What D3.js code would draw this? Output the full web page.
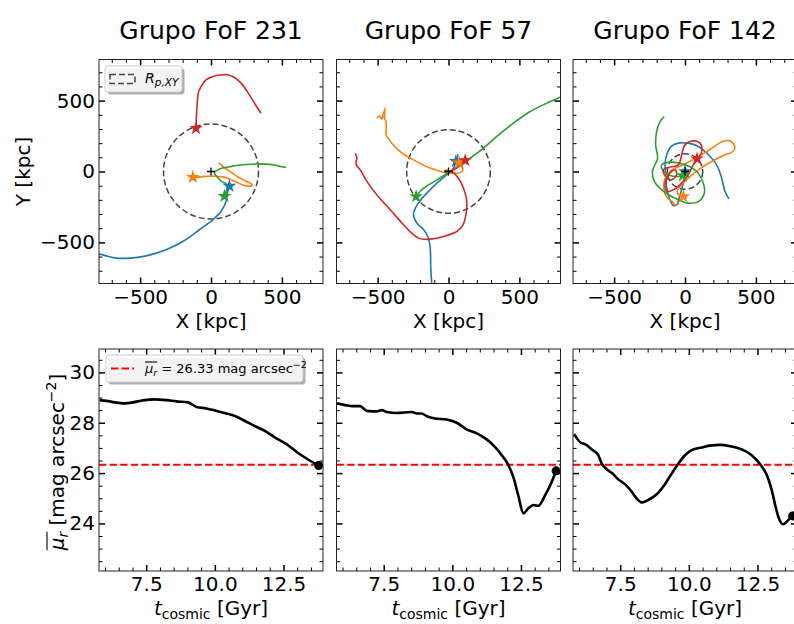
<!DOCTYPE html>
<html>
<head>
<meta charset="utf-8">
<script src="https://cdn.jsdelivr.net/npm/d3@7"></script>
<style>
  body { margin: 0; background: #fff; }
  text { font-family: "DejaVu Sans", sans-serif; white-space: pre; }
</style>
</head>
<body>
<script>
// ---- data ----
var groupNames = ["Grupo FoF 231", "Grupo FoF 57", "Grupo FoF 142"];
var trajColors = ["#1f77b4", "#ff7f0e", "#2ca02c", "#d62728"];
var radiusXY = [335, 295, 125];      // kpc
var muMean = 26.33;

// trajectories (kpc), order: blue, orange, green, red
var traj231Blue = [[-830,-570],[-794,-580],[-740,-595],[-670,-611],[-576,-611],[-458,-595],[-317,-552],[-200,-494],[-82,-411],[12,-341],[70,-282],[106,-211],[118,-141],[130,-103]];
var traj231Orange = [[55,61],[92,30],[130,2],[165,-22],[200,-44],[250,-70],[283,-87],[292,-97],[280,-104],[259,-103],[225,-95],[189,-80],[150,-62],[107,-44],[70,-36],[36,-33],[0,-33],[-34,-34],[-80,-38],[-128,-40]];
var traj231Green = [[529,28],[480,38],[420,50],[341,54],[248,49],[180,42],[130,33],[80,24],[45,10],[25,-5],[30,-22],[50,-45],[72,-68],[100,-82],[115,-100],[112,-130],[104,-155],[95,-174]];
var traj231Red = [[352,411],[320,460],[293,505],[255,565],[223,611],[190,645],[153,670],[115,683],[82,681],[35,677],[0,665],[-35,646],[-70,599],[-88,560],[-94,517],[-101,423],[-104,360],[-106,305]];

var traj57Blue = [[-115,-830],[-118,-790],[-125,-681],[-129,-541],[-145,-460],[-175,-410],[-223,-364],[-247,-306],[-228,-247],[-195,-200],[-165,-165],[-82,-82],[-12,-23],[35,23],[52,70],[68,122]];
var traj57Orange = [[-505,376],[-490,392],[-478,380],[-470,371],[-462,395],[-455,420],[-447,446],[-450,410],[-451,376],[-440,350],[-440,300],[-440,259],[-420,228],[-400,200],[-341,141],[-247,82],[-129,24],[-35,-5],[35,-12],[82,-8],[101,10],[95,40],[75,62]];
var traj57Green = [[830,545],[799,529],[693,482],[576,423],[458,341],[341,247],[247,165],[153,94],[82,47],[12,0],[-82,-59],[-176,-118],[-228,-176]];
var traj57Red = [[-658,129],[-650,110],[-646,94],[-652,70],[-650,47],[-623,12],[-576,-70],[-505,-165],[-411,-270],[-317,-376],[-265,-430],[-211,-470],[-170,-478],[-129,-477],[-35,-458],[59,-423],[100,-380],[118,-329],[129,-211],[106,-118],[70,-47],[23,0],[-23,7],[-25,0],[20,5],[60,25],[95,55],[118,78]];

var traj142Blue = [[310,-193],[282,-141],[259,-47],[223,47],[165,118],[94,176],[23,200],[-47,200],[-99,176],[-129,118],[-141,47],[-134,-23],[-129,-118],[-106,-200],[-82,-240],[-59,-235],[-35,-165],[-12,-82],[0,0]];
var traj142Orange = [[-40,-225],[-70,-235],[-90,-212],[-130,-180],[-150,-120],[-140,-50],[-100,5],[-30,40],[40,75],[110,115],[190,165],[260,210],[320,215],[352,170],[330,135],[282,118],[188,71],[94,12],[23,-47],[-35,-106],[-55,-150],[-12,-176]];
var traj142Green = [[-146,388],[-176,352],[-200,282],[-207,188],[-193,94],[-215,40],[-230,0],[-216,-70],[-165,-129],[-70,-188],[23,-223],[94,-212],[136,-153],[129,-82],[82,0],[0,47],[-94,66],[-165,47],[-150,0],[-100,-30],[-50,-35],[-15,-28]];
var traj142Red = [[-141,-35],[-153,12],[-118,28],[-47,47],[-23,118],[0,188],[59,216],[106,200],[118,141],[94,94],[59,47],[23,-23],[-23,-82],[-82,-129],[-129,-141],[-141,-94],[-118,-23],[-70,12],[-59,-23],[-94,-59],[-130,-50]];

// final positions (stars)
var stars231 = [[130,-103],[-128,-40],[95,-174],[-106,305]];
var stars57 = [[52,72],[75,62],[-228,-176],[118,78]];
var stars142 = [[0,0],[-12,-176],[-15,-28],[85,90]];

// surface brightness vs cosmic time
var t231 = [5.8, 6.05, 6.35, 6.66, 7.02, 7.38, 7.81, 8.24, 8.60, 9.02, 9.33, 9.69, 10.06, 10.42, 10.79, 11.15, 11.51, 11.88, 12.24, 12.61, 12.97, 13.34, 13.78];
var mu231 = [28.90, 28.87, 28.81, 28.77, 28.81, 28.89, 28.93, 28.90, 28.85, 28.81, 28.63, 28.57, 28.47, 28.37, 28.24, 28.04, 27.84, 27.64, 27.38, 27.15, 26.85, 26.58, 26.30];
var t57 = [5.8, 6.09, 6.39, 6.64, 6.76, 6.88, 7.24, 7.43, 7.61, 7.97, 8.52, 8.70, 8.88, 9.07, 9.37, 9.79, 10.16, 10.52, 10.89, 11.25, 11.55, 11.80, 12.04, 12.22, 12.40, 12.59, 12.77, 12.95, 13.13, 13.38, 13.62, 13.78];
var mu57 = [28.77, 28.70, 28.66, 28.66, 28.57, 28.47, 28.45, 28.50, 28.43, 28.39, 28.43, 28.37, 28.37, 28.26, 28.17, 28.13, 28.00, 27.74, 27.58, 27.34, 27.04, 26.71, 26.32, 25.85, 25.12, 24.40, 24.60, 24.73, 24.70, 25.12, 25.65, 26.09];
var t142 = [5.82, 6.03, 6.28, 6.46, 6.70, 6.83, 7.01, 7.19, 7.43, 7.67, 7.92, 8.10, 8.30, 8.52, 8.83, 9.13, 9.38, 9.62, 9.86, 10.10, 10.47, 10.83, 11.14, 11.50, 11.93, 12.29, 12.59, 12.84, 13.02, 13.16, 13.28, 13.44, 13.62, 13.78];
var mu142 = [27.55, 27.24, 27.11, 26.94, 26.71, 26.38, 26.15, 26.01, 25.75, 25.56, 25.26, 24.99, 24.83, 24.93, 25.16, 25.56, 25.99, 26.38, 26.71, 26.91, 27.02, 27.10, 27.12, 27.07, 26.94, 26.71, 26.36, 25.92, 25.32, 24.66, 24.20, 23.97, 24.13, 24.30];

var trajs = [
  [traj231Blue, traj231Orange, traj231Green, traj231Red],
  [traj57Blue, traj57Orange, traj57Green, traj57Red],
  [traj142Blue, traj142Orange, traj142Green, traj142Red]
];
var stars = [stars231, stars57, stars142];
var times = [t231, t57, t142];
var mus = [mu231, mu57, mu142];

// ---- layout ----
var svgWidth = 794, svgHeight = 624;
var panelLeft = [99, 336.5, 573];
var panelW = 224;
var topY = 59.5, topH = 224;
var botY = 349, botH = 222;

var svg = d3.select("body").append("svg")
  .attr("width", svgWidth)
  .attr("height", svgHeight);

var defs = svg.append("defs");

// draws inward ticks on all four sides, labels only where asked
function drawAxes(g, x, y, w, h, o) {
  var maj = 6, mnr = 3.5;
  function style(sel, width) {
    sel.select(".domain").remove();
    sel.selectAll("line").attr("stroke", "#000").attr("stroke-width", width);
    sel.selectAll("text").style("font-size", "20px").style("font-family", "DejaVu Sans").attr("fill", "#000");
  }
  // minors
  g.append("g").attr("transform", "translate(0," + h + ")")
    .call(d3.axisBottom(x).tickValues(o.xMin).tickSize(-mnr).tickFormat(""))
    .call(s => style(s, 1));
  g.append("g")
    .call(d3.axisTop(x).tickValues(o.xMin).tickSize(-mnr).tickFormat(""))
    .call(s => style(s, 1));
  g.append("g")
    .call(d3.axisLeft(y).tickValues(o.yMin).tickSize(-mnr).tickFormat(""))
    .call(s => style(s, 1));
  g.append("g").attr("transform", "translate(" + w + ",0)")
    .call(d3.axisRight(y).tickValues(o.yMin).tickSize(-mnr).tickFormat(""))
    .call(s => style(s, 1));
  // majors
  g.append("g").attr("transform", "translate(0," + h + ")")
    .call(d3.axisBottom(x).tickValues(o.xMaj).tickSize(-maj).tickPadding(6).tickFormat(o.xFmt))
    .call(s => style(s, 1.5));
  g.append("g")
    .call(d3.axisTop(x).tickValues(o.xMaj).tickSize(-maj).tickFormat(""))
    .call(s => style(s, 1.5));
  g.append("g")
    .call(d3.axisLeft(y).tickValues(o.yMaj).tickSize(-maj).tickPadding(4).tickFormat(o.yLabels ? o.yFmt : ""))
    .call(s => style(s, 1.5));
  g.append("g").attr("transform", "translate(" + w + ",0)")
    .call(d3.axisRight(y).tickValues(o.yMaj).tickSize(-maj).tickFormat(""))
    .call(s => style(s, 1.5));
  // frame
  g.append("rect").attr("width", w).attr("height", h)
    .attr("fill", "none").attr("stroke", "#222").attr("stroke-width", 1);
}

// overline over the first n characters of a text node, drawn in parent g
function overline(g, textNode, n, dy) {
  var a = textNode.getStartPositionOfChar(0).x;
  var b = textNode.getEndPositionOfChar(n - 1).x;
  g.append("line").attr("x1", a).attr("x2", b).attr("y1", dy).attr("y2", dy)
    .attr("stroke", "#000").attr("stroke-width", 1.1);
}

var kpcTicksMinor = d3.range(-700, 701, 100).filter(v => v % 500 !== 0);
var tMinor = d3.range(6, 13.76, 0.5).filter(v => Math.abs(v - 7.5) > 0.01 && Math.abs(v - 10) > 0.01 && Math.abs(v - 12.5) > 0.01);
var muMinor = d3.range(22.5, 30.76, 0.5).filter(v => v % 2 !== 0);

var star = d3.symbol().type(d3.symbolStar).size(60);

groupNames.forEach(function(name, i) {
  var left = panelLeft[i];

  // ---- top: XY trajectories ----
  var x = d3.scaleLinear().domain([-790, 790]).range([0, panelW]);
  var y = d3.scaleLinear().domain([-790, 790]).range([topH, 0]);
  var g = svg.append("g").attr("transform", "translate(" + left + "," + topY + ")");

  defs.append("clipPath").attr("id", "clip" + i)
    .append("rect").attr("width", panelW).attr("height", topH);
  var plot = g.append("g").attr("clip-path", "url(#clip" + i + ")");

  plot.append("ellipse")
    .attr("cx", x(0)).attr("cy", y(0))
    .attr("rx", x(radiusXY[i]) - x(0)).attr("ry", y(0) - y(radiusXY[i]))
    .attr("fill", "none").attr("stroke", "#444").attr("stroke-width", 1.5)
    .attr("stroke-dasharray", "6,3");

  var line = d3.line().x(d => x(d[0])).y(d => y(d[1])).curve(d3.curveCatmullRom.alpha(0.5));
  trajs[i].forEach(function(tr, k) {
    plot.append("path").attr("d", line(tr))
      .attr("fill", "none").attr("stroke", trajColors[k]).attr("stroke-width", 1.6);
  });
  stars[i].forEach(function(s, k) {
    plot.append("path").attr("d", star)
      .attr("transform", "translate(" + x(s[0]) + "," + y(s[1]) + ")")
      .attr("fill", trajColors[k]);
  });
  // centre marker
  plot.append("path")
    .attr("d", "M" + (x(0) - 4) + "," + y(0) + "H" + (x(0) + 4) + "M" + x(0) + "," + (y(0) - 4) + "V" + (y(0) + 4))
    .attr("stroke", "#000").attr("stroke-width", 1.3);

  drawAxes(g, x, y, panelW, topH, {
    xMaj: [-500, 0, 500], xMin: kpcTicksMinor,
    yMaj: [-500, 0, 500], yMin: kpcTicksMinor,
    xFmt: d3.format("d"), yFmt: d3.format("d"), yLabels: i === 0
  });

  svg.append("text")
    .attr("x", left + panelW / 2).attr("y", 39)
    .attr("text-anchor", "middle").style("font-size", "25px")
    .text(name);

  svg.append("text")
    .attr("x", left + panelW / 2).attr("y", topY + topH + 44)
    .attr("text-anchor", "middle").style("font-size", "20px")
    .text("X [kpc]");

  // ---- bottom: surface brightness ----
  var tx = d3.scaleLinear().domain([5.78, 13.94]).range([0, panelW]);
  var my = d3.scaleLinear().domain([22.11, 30.93]).range([botH, 0]);
  var gb = svg.append("g").attr("transform", "translate(" + left + "," + botY + ")");

  gb.append("line")
    .attr("x1", 0).attr("x2", panelW)
    .attr("y1", my(muMean)).attr("y2", my(muMean))
    .attr("stroke", "red").attr("stroke-width", 2).attr("stroke-dasharray", "7.4,3.2");

  var pts = times[i].map((t, j) => [t, mus[i][j]]);
  gb.append("path")
    .attr("d", d3.line().x(d => tx(d[0])).y(d => my(d[1])).curve(d3.curveMonotoneX)(pts))
    .attr("fill", "none").attr("stroke", "#000").attr("stroke-width", 2.6);
  var last = pts[pts.length - 1];
  gb.append("circle").attr("cx", tx(last[0])).attr("cy", my(last[1])).attr("r", 4.5).attr("fill", "#000");

  drawAxes(gb, tx, my, panelW, botH, {
    xMaj: [7.5, 10, 12.5], xMin: tMinor,
    yMaj: [24, 26, 28, 30], yMin: muMinor,
    xFmt: d3.format(".1f"), yFmt: d3.format("d"), yLabels: i === 0
  });

  var xl = svg.append("text")
    .attr("x", left + panelW / 2).attr("y", botY + botH + 44)
    .attr("text-anchor", "middle").style("font-size", "20px");
  xl.append("tspan").attr("font-style", "italic").text("t");
  xl.append("tspan").attr("dy", 4).style("font-size", "14px").text("cosmic");
  xl.append("tspan").attr("dy", -4).text(" [Gyr]");
});

// ---- y labels ----
svg.append("text")
  .attr("transform", "translate(30," + (topY + topH / 2) + ") rotate(-90)")
  .attr("text-anchor", "middle").style("font-size", "20px")
  .text("Y [kpc]");

var ylg = svg.append("g").attr("transform", "translate(64," + (botY + botH / 2 + 2) + ") rotate(-90)");
var yl = ylg.append("text").attr("text-anchor", "middle").style("font-size", "20px");
yl.append("tspan").attr("font-style", "italic").text("μ");
yl.append("tspan").attr("font-style", "italic").attr("dy", 4).style("font-size", "14px").text("r");
yl.append("tspan").attr("dy", -4).text(" [mag arcsec");
yl.append("tspan").attr("dy", -8).style("font-size", "14px").text("−2");
yl.append("tspan").attr("dy", 8).text("]");
overline(ylg, yl.node(), 2, -17);

// ---- legends ----
function legendBox(x0, y0, w, h) {
  svg.append("rect").attr("x", x0 + 2.5).attr("y", y0 + 2.5).attr("width", w).attr("height", h)
    .attr("rx", 3).attr("fill", "#4d4d4d").attr("opacity", 0.45);
  svg.append("rect").attr("x", x0).attr("y", y0).attr("width", w).attr("height", h)
    .attr("rx", 3).attr("fill", "#fff").attr("fill-opacity", 0.85)
    .attr("stroke", "#ccc").attr("stroke-width", 1);
}

legendBox(105, 66, 77, 26);
svg.append("rect").attr("x", 110).attr("y", 74.5).attr("width", 25).attr("height", 9)
  .attr("fill", "none").attr("stroke", "#444").attr("stroke-width", 1.5).attr("stroke-dasharray", "6,3");
var lt = svg.append("text").attr("x", 145).attr("y", 83).style("font-size", "14px");
lt.append("tspan").attr("font-style", "italic").text("R");
lt.append("tspan").attr("font-style", "italic").attr("dy", 3).style("font-size", "10.5px").text("p,XY");

legendBox(106, 355, 197, 27);
svg.append("line").attr("x1", 111).attr("x2", 134).attr("y1", 368.5).attr("y2", 368.5)
  .attr("stroke", "red").attr("stroke-width", 2).attr("stroke-dasharray", "7.4,3.2");
var lgg = svg.append("g");
var lb = lgg.append("text").attr("x", 145).attr("y", 373).style("font-size", "13px");
lb.append("tspan").attr("font-style", "italic").text("μ");
lb.append("tspan").attr("font-style", "italic").attr("dy", 2.5).style("font-size", "9.5px").text("r");
lb.append("tspan").attr("dy", -2.5).text(" = " + muMean.toFixed(2) + " mag arcsec");
lb.append("tspan").attr("dy", -5).style("font-size", "9.5px").text("−2");
overline(lgg, lb.node(), 2, 362);
</script>
</body>
</html>
